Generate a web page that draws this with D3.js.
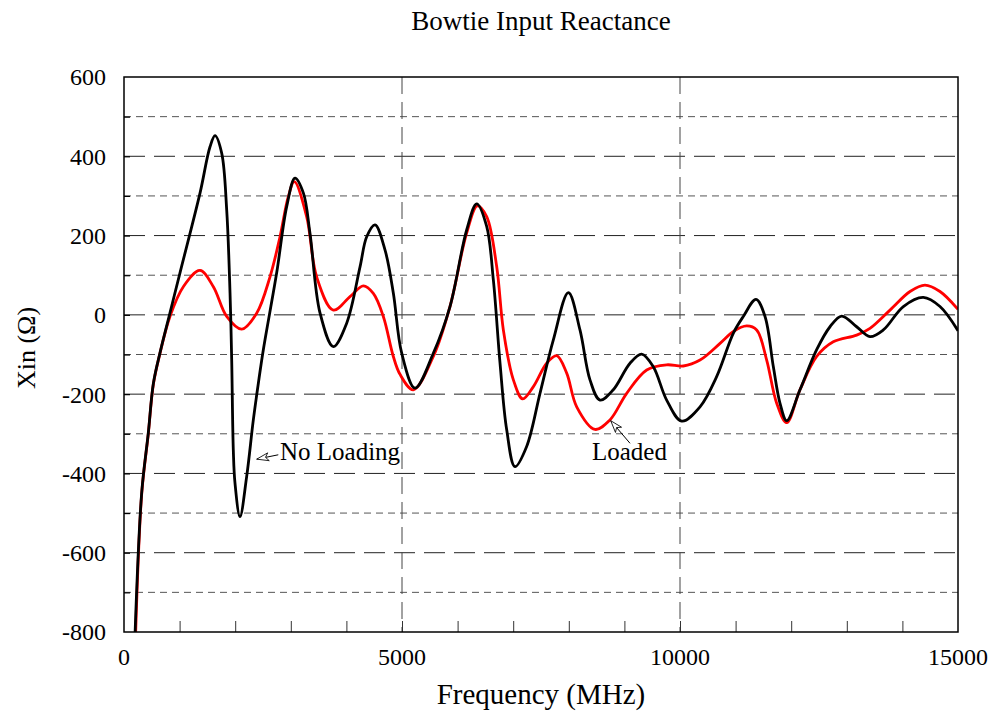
<!DOCTYPE html>
<html>
<head>
<meta charset="utf-8">
<script src="https://cdn.jsdelivr.net/npm/d3@7"></script>
<style>
  body { margin: 0; background: #fff; }
  text { font-family: "Liberation Serif", "Times New Roman", serif; fill: #000; }
</style>
</head>
<body>
<div id="chart"></div>
<script>
// frequency (MHz) and reactance (ohm)
var noLoadFreq = [200, 318, 437, 528, 647, 827, 1007, 1367, 1547, 1637, 1757, 1847, 1907, 1937, 1966, 1996, 2086, 2206, 2326, 2416, 2506, 2746, 2926, 3076, 3227, 3345, 3525, 3765, 4005, 4245, 4365, 4514, 4694, 4844, 4994, 5234, 5563, 5863, 6163, 6343, 6523, 6643, 6763, 6883, 7032, 7242, 7482, 7722, 7992, 8201, 8381, 8561, 8800, 9101, 9311, 9520, 9760, 10030, 10360, 10659, 10960, 11139, 11367, 11529, 11679, 11799, 11919, 12158, 12458, 12698, 12908, 13177, 13417, 13657, 14017, 14376, 14676, 15000];
var noLoadX = [-800, -449, -298, -173, -96, 5, 106, 307, 424, 452, 408, 265, 55, -114, -341, -424, -509, -408, -265, -173, -88, 106, 273, 345, 307, 206, 5, -80, -21, 121, 197, 227, 164, 55, -96, -185, -97, 21, 214, 280, 223, 88, -122, -290, -383, -332, -198, -63, 56, -38, -164, -215, -189, -122, -99, -131, -215, -268, -232, -156, -46, -4, 39, -4, -131, -223, -267, -189, -88, -30, -3, -30, -55, -38, 21, 44, 21, -40];

var loadFreq = [210, 318, 437, 528, 647, 827, 1067, 1367, 1607, 1847, 2116, 2386, 2626, 2806, 2955, 3063, 3285, 3465, 3765, 4065, 4305, 4484, 4664, 4844, 4964, 5204, 5563, 5863, 6163, 6355, 6523, 6703, 6823, 7003, 7171, 7363, 7602, 7782, 7962, 8142, 8471, 8741, 9041, 9401, 9760, 10060, 10360, 10720, 10960, 11199, 11379, 11559, 11739, 11919, 12158, 12458, 12757, 13177, 13417, 13777, 14137, 14406, 14676, 15000];
var loadX = [-800, -452, -300, -175, -97, -4, 71, 112, 71, -4, -36, 4, 96, 197, 298, 336, 248, 96, 12, 46, 73, 54, -4, -105, -150, -189, -105, 21, 206, 275, 248, 122, -38, -164, -212, -181, -122, -103, -147, -232, -289, -265, -198, -139, -126, -129, -114, -72, -42, -28, -38, -114, -223, -272, -189, -105, -68, -51, -34, 12, 59, 75, 59, 14];

var xTickLabels = [0, 5000, 10000, 15000];
var yTickLabels = [600, 400, 200, 0, -200, -400, -600, -800];

// annotation: label, arrow tip, arrow tail, text start (data units)
var notes = [
  {label: "No Loading", tip: [2387, -364], tail: [2775, -353], at: [2806, -366]},
  {label: "Loaded", tip: [8754, -267], tail: [9101, -324], at: [8417, -366]}
];

var width = 993, height = 717;
var margin = {top: 77, right: 35, bottom: 85, left: 124};

var svg = d3.select("#chart").append("svg")
    .attr("width", width)
    .attr("height", height);

var x = d3.scaleLinear().domain([0, 15000]).range([margin.left, width - margin.right]);
var y = d3.scaleLinear().domain([-800, 600]).range([height - margin.bottom, margin.top]);

var defs = svg.append("defs");
defs.append("clipPath").attr("id", "clip")
  .append("rect")
    .attr("x", x(0)).attr("y", y(600))
    .attr("width", x(15000) - x(0)).attr("height", y(-800) - y(600));
defs.append("marker")
    .attr("id", "head")
    .attr("viewBox", "-1 -1 14 10")
    .attr("refX", 0).attr("refY", 4)
    .attr("markerWidth", 14).attr("markerHeight", 10)
    .attr("markerUnits", "userSpaceOnUse")
    .attr("orient", "auto")
  .append("path")
    .attr("d", "M0,4 L12,0 L9,4 L12,8 Z")
    .attr("fill", "#fff")
    .attr("stroke", "#000")
    .attr("stroke-width", 0.8);

// horizontal grid: long dashes every 200, short dashes at the odd hundreds
var grid = svg.append("g");
d3.range(-700, 600, 100).forEach(function(v) {
  var major = v % 200 === 0;
  grid.append("line")
    .attr("x1", x(0)).attr("x2", x(15000))
    .attr("y1", y(v)).attr("y2", y(v))
    .attr("stroke", major ? "#222" : "#555")
    .attr("stroke-width", 1)
    .attr("stroke-dasharray", major ? "21,9" : "7,5");
});
[5000, 10000].forEach(function(f) {
  grid.append("line")
    .attr("x1", x(f)).attr("x2", x(f))
    .attr("y1", y(600)).attr("y2", y(-800))
    .attr("stroke", "#444")
    .attr("stroke-width", 1)
    .attr("stroke-dasharray", "17,8");
});

// bottom inner ticks
var xAxis = d3.axisBottom(x).tickValues(d3.range(1000, 15000, 1000))
    .tickSizeInner(-11).tickSizeOuter(0).tickFormat("");
svg.append("g")
    .attr("transform", "translate(0," + y(-800) + ")")
    .call(xAxis)
    .call(function(g) {
      g.select(".domain").remove();
      g.selectAll(".tick line").attr("stroke", "#333");
    });

// left inner ticks
var yAxis = d3.axisLeft(y).tickValues(d3.range(-700, 600, 100))
    .tickSizeInner(-6).tickSizeOuter(0).tickFormat("");
svg.append("g")
    .attr("transform", "translate(" + x(0) + ",0)")
    .call(yAxis)
    .call(function(g) {
      g.select(".domain").remove();
      g.selectAll(".tick line").attr("stroke", "#000").attr("stroke-width", 1.2);
    });

// curves
var line = d3.line()
    .x(function(d) { return x(d[0]); })
    .y(function(d) { return y(d[1]); })
    .curve(d3.curveCatmullRom.alpha(0.5));

var lines = svg.append("g").attr("clip-path", "url(#clip)");
lines.append("path")
    .datum(d3.zip(loadFreq, loadX))
    .attr("d", line)
    .attr("fill", "none")
    .attr("stroke", "#ff0000")
    .attr("stroke-width", 2.8)
    .attr("stroke-linejoin", "round");
lines.append("path")
    .datum(d3.zip(noLoadFreq, noLoadX))
    .attr("d", line)
    .attr("fill", "none")
    .attr("stroke", "#000")
    .attr("stroke-width", 2.8)
    .attr("stroke-linejoin", "round");

// frame
svg.append("rect")
    .attr("x", x(0)).attr("y", y(600))
    .attr("width", x(15000) - x(0)).attr("height", y(-800) - y(600))
    .attr("fill", "none")
    .attr("stroke", "#000")
    .attr("stroke-width", 1.5);

// tick labels
svg.append("g").selectAll("text")
    .data(xTickLabels).enter().append("text")
    .attr("x", function(d) { return x(d); })
    .attr("y", y(-800) + 33)
    .attr("text-anchor", "middle")
    .attr("font-size", "24px")
    .text(function(d) { return d; });

svg.append("g").selectAll("text")
    .data(yTickLabels).enter().append("text")
    .attr("x", x(0) - 18)
    .attr("y", function(d) { return y(d); })
    .attr("dy", "0.35em")
    .attr("text-anchor", "end")
    .attr("font-size", "24px")
    .text(function(d) { return d; });

// annotations
notes.forEach(function(n) {
  svg.append("line")
    .attr("x1", x(n.tip[0])).attr("y1", y(n.tip[1]))
    .attr("x2", x(n.tail[0])).attr("y2", y(n.tail[1]))
    .attr("stroke", "#000")
    .attr("stroke-width", 1)
    .attr("marker-start", "url(#head)");
  svg.append("text")
    .attr("x", x(n.at[0])).attr("y", y(n.at[1]))
    .attr("font-size", "25px")
    .text(n.label);
});

// titles
svg.append("text")
    .attr("x", (x(0) + x(15000)) / 2)
    .attr("y", 30)
    .attr("text-anchor", "middle")
    .attr("font-size", "27px")
    .text("Bowtie Input Reactance");

svg.append("text")
    .attr("x", (x(0) + x(15000)) / 2)
    .attr("y", 704)
    .attr("text-anchor", "middle")
    .attr("font-size", "29px")
    .text("Frequency (MHz)");

svg.append("text")
    .attr("transform", "translate(35,348) rotate(-90)")
    .attr("text-anchor", "middle")
    .attr("font-size", "26px")
    .text("Xin (Ω)");
</script>
</body>
</html>
